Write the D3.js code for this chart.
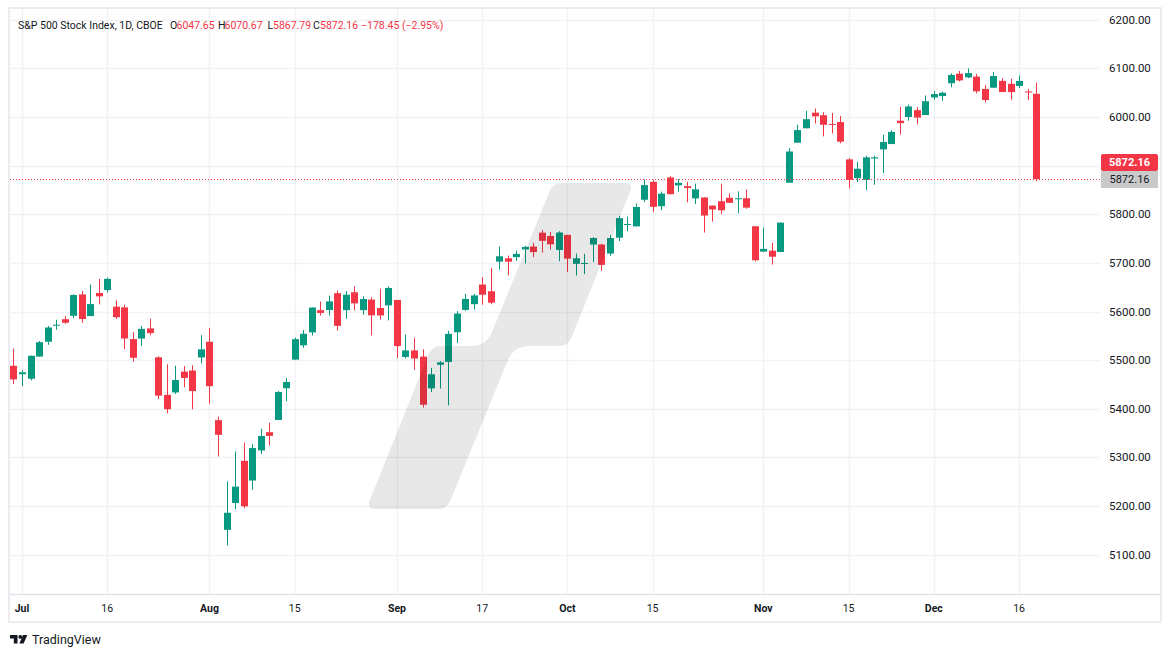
<!DOCTYPE html>
<html>
<head>
<meta charset="utf-8">
<script src="https://cdn.jsdelivr.net/npm/d3@7"></script>
<style>
  body { margin: 0; background: #fff; }
  text { font-family: Roboto, "Liberation Sans", sans-serif; }
</style>
</head>
<body>
<div id="chart"></div>
<script>
var width = 1171,
    height = 657,
    upColor = "#089981",
    downColor = "#F23645",
    textColor = "#131722";

// daily bars, Jun 28 .. Dec 18 2024
var dates = ["2024-06-28",
  "2024-07-01","2024-07-02","2024-07-03","2024-07-05","2024-07-08","2024-07-09","2024-07-10","2024-07-11","2024-07-12",
  "2024-07-15","2024-07-16","2024-07-17","2024-07-18","2024-07-19","2024-07-22","2024-07-23","2024-07-24","2024-07-25",
  "2024-07-26","2024-07-29","2024-07-30","2024-07-31",
  "2024-08-01","2024-08-02","2024-08-05","2024-08-06","2024-08-07","2024-08-08","2024-08-09","2024-08-12","2024-08-13",
  "2024-08-14","2024-08-15","2024-08-16","2024-08-19","2024-08-20","2024-08-21","2024-08-22","2024-08-23","2024-08-26",
  "2024-08-27","2024-08-28","2024-08-29","2024-08-30",
  "2024-09-03","2024-09-04","2024-09-05","2024-09-06","2024-09-09","2024-09-10","2024-09-11","2024-09-12","2024-09-13",
  "2024-09-16","2024-09-17","2024-09-18","2024-09-19","2024-09-20","2024-09-23","2024-09-24","2024-09-25","2024-09-26",
  "2024-09-27","2024-09-30",
  "2024-10-01","2024-10-02","2024-10-03","2024-10-04","2024-10-07","2024-10-08","2024-10-09","2024-10-10","2024-10-11",
  "2024-10-14","2024-10-15","2024-10-16","2024-10-17","2024-10-18","2024-10-21","2024-10-22","2024-10-23","2024-10-24",
  "2024-10-25","2024-10-28","2024-10-29","2024-10-30","2024-10-31",
  "2024-11-01","2024-11-04","2024-11-05","2024-11-06","2024-11-07","2024-11-08","2024-11-11","2024-11-12","2024-11-13",
  "2024-11-14","2024-11-15","2024-11-18","2024-11-19","2024-11-20","2024-11-21","2024-11-22","2024-11-25","2024-11-26",
  "2024-11-27","2024-11-29",
  "2024-12-02","2024-12-03","2024-12-04","2024-12-05","2024-12-06","2024-12-09","2024-12-10","2024-12-11","2024-12-12",
  "2024-12-13","2024-12-16","2024-12-17","2024-12-18"];

var opens = [5488.48,
  5471.08,5461.84,5507.44,5537.91,5572.75,5584.24,5591.26,5635.21,5590.76,
  5638.16,5644.09,5610.07,5608.56,5543.37,5544.54,5565.30,5505.84,5428.70,
  5433.67,5476.55,5478.73,5505.59,
  5537.84,5376.63,5151.14,5206.42,5293.13,5252.57,5314.45,5351.97,5376.98,
  5442.35,5501.13,5530.50,5557.23,5602.88,5603.09,5637.77,5602.89,5639.66,
  5602.89,5624.51,5607.30,5612.74,
  5623.89,5506.68,5520.08,5507.33,5442.07,5490.51,5496.42,5557.48,5603.34,
  5615.21,5655.51,5641.68,5702.63,5709.42,5711.90,5727.73,5733.65,5762.22,
  5755.36,5726.52,
  5757.73,5698.19,5698.56,5737.80,5737.80,5719.14,5751.80,5778.36,5775.09,
  5829.81,5866.74,5816.58,5875.62,5859.43,5857.82,5832.70,5834.50,5817.80,
  5826.75,5833.93,5832.65,5832.89,5775.34,
  5723.22,5725.15,5722.43,5864.89,5947.21,5976.76,6008.86,6003.60,5985.75,
  5989.59,5912.79,5874.17,5870.69,5914.64,5933.38,5944.36,5992.28,6000.03,
  6014.11,6003.98,
  6040.11,6042.97,6069.39,6089.03,6081.38,6083.00,6057.59,6060.15,6074.29,
  6068.17,6063.79,6052.55,6047.65];

var highs = [5523.64,
  5479.55,5509.69,5539.27,5570.33,5583.11,5590.75,5635.39,5642.45,5655.56,
  5666.94,5669.67,5622.49,5614.05,5557.50,5570.36,5585.34,5508.04,5491.59,
  5488.66,5487.74,5489.46,5551.51,
  5566.16,5383.89,5250.89,5312.34,5330.64,5328.03,5358.83,5371.20,5436.50,
  5463.22,5546.23,5561.98,5608.30,5620.51,5632.68,5643.22,5641.82,5651.62,
  5631.18,5629.51,5646.95,5651.37,
  5623.89,5552.74,5546.30,5522.47,5484.20,5497.91,5560.41,5600.71,5636.27,
  5636.05,5670.81,5689.75,5733.57,5715.14,5725.36,5735.32,5741.03,5767.37,
  5763.78,5765.14,
  5757.73,5719.14,5718.78,5753.15,5739.34,5757.60,5796.80,5795.03,5822.13,
  5871.41,5870.36,5846.52,5878.46,5872.17,5866.92,5863.04,5834.85,5817.80,
  5862.82,5842.92,5847.19,5850.94,5775.34,
  5772.52,5741.43,5783.44,5936.14,5983.84,6012.45,6017.31,6009.92,6008.19,
  6002.10,5915.21,5908.12,5920.28,5920.67,5963.44,5972.90,6020.75,6025.42,
  6020.16,6044.17,
  6053.58,6052.07,6089.84,6094.64,6099.97,6088.51,6065.40,6092.59,6079.68,
  6078.58,6085.19,6057.68,6070.67];

var lows = [5451.12,
  5446.53,5458.43,5507.42,5531.63,5562.51,5574.57,5586.44,5576.53,5590.44,
  5614.75,5639.02,5584.81,5522.81,5497.04,5529.04,5550.90,5419.98,5390.95,
  5430.70,5444.44,5398.84,5493.75,
  5410.42,5302.03,5119.26,5193.56,5195.54,5233.85,5306.93,5324.37,5376.98,
  5415.44,5501.13,5525.17,5550.74,5591.50,5591.57,5560.95,5585.16,5602.34,
  5593.48,5550.74,5583.71,5581.79,
  5504.33,5503.66,5480.15,5402.62,5434.49,5441.72,5406.96,5535.50,5601.65,
  5604.53,5614.05,5615.08,5686.42,5674.49,5704.22,5698.99,5712.06,5721.01,
  5727.34,5703.53,
  5681.28,5674.00,5677.04,5702.02,5683.79,5714.56,5745.02,5764.76,5775.09,
  5824.81,5804.48,5808.34,5840.25,5846.11,5824.46,5821.17,5762.41,5784.92,
  5799.98,5823.08,5802.68,5811.28,5702.86,
  5723.22,5696.51,5722.10,5864.89,5947.21,5976.76,5986.69,5960.08,5965.91,
  5945.80,5853.01,5865.95,5850.00,5860.58,5884.82,5944.36,5963.91,5992.27,
  5984.87,6003.98,
  6035.33,6033.39,6061.06,6073.00,6079.98,6048.63,6029.89,6060.15,6051.25,
  6035.77,6059.14,6035.19,5867.79];

var closes = [5460.48,
  5475.09,5509.01,5537.02,5567.19,5572.85,5576.98,5633.91,5584.54,5615.35,
  5631.22,5667.20,5588.27,5544.59,5505.00,5564.41,5555.74,5427.13,5399.22,
  5459.10,5463.54,5436.44,5522.30,
  5446.68,5346.56,5186.33,5240.03,5199.50,5319.31,5344.16,5344.39,5434.43,
  5455.21,5543.22,5554.25,5608.25,5597.12,5620.85,5570.64,5634.61,5616.84,
  5625.80,5592.18,5591.96,5648.40,
  5528.93,5520.07,5503.41,5408.42,5471.05,5495.52,5554.13,5595.76,5626.02,
  5633.09,5634.58,5618.26,5713.64,5702.55,5718.57,5732.93,5722.26,5745.37,
  5738.17,5762.48,
  5708.75,5709.54,5699.94,5751.07,5695.94,5751.13,5792.04,5780.05,5815.03,
  5859.85,5815.26,5842.47,5841.47,5864.67,5853.98,5851.20,5797.42,5809.86,
  5808.12,5823.52,5832.92,5813.67,5705.45,
  5728.80,5712.69,5782.76,5929.04,5973.10,5995.54,6001.35,5983.99,5985.38,
  5949.17,5870.62,5893.62,5916.98,5917.11,5948.71,5969.34,5987.37,6021.63,
  5998.74,6032.38,
  6047.15,6049.88,6086.49,6075.11,6090.27,6052.85,6034.91,6084.19,6051.25,
  6051.09,6074.08,6050.61,5872.16];

var priceTicks = [5100, 5200, 5300, 5400, 5500, 5600, 5700, 5800, 5900, 6000, 6100, 6200];
var dateTicks = ["2024-07-01","2024-07-16","2024-08-01","2024-08-15","2024-09-03","2024-09-17",
                 "2024-10-01","2024-10-15","2024-11-01","2024-11-15","2024-12-02","2024-12-16"];
var dateTickLabels = ["Jul","16","Aug","15","Sep","17","Oct","15","Nov","15","Dec","16"];
var monthLabels = ["Jul","Aug","Sep","Oct","Nov","Dec"];

var title = "S&P 500 Stock Index, 1D, CBOE",
    lastPrice = "5872.16",
    legendParts = [{t: "O", c: textColor, x: 170}, {t: "6047.65", c: downColor, x: 176.5},
                   {t: "H", c: textColor, x: 218}, {t: "6070.67", c: downColor, x: 224.5},
                   {t: "L", c: textColor, x: 267.5}, {t: "5867.79", c: downColor, x: 273},
                   {t: "C", c: textColor, x: 313}, {t: "5872.16", c: downColor, x: 320},
                   {t: "\u2212178.45 (\u22122.95%)", c: downColor, x: 361}];

var bars = dates.map(function(d, i) {
  return {i: i, date: d, o: opens[i], h: highs[i], l: lows[i], c: closes[i]};
});

var plot = {left: 10, right: 1100, top: 9, bottom: 594};

var x = d3.scaleLinear()
    .domain([-0.41, 127.5])
    .range([plot.left, plot.right]);

var y = d3.scaleLinear()
    .domain([5019.3, 6222.0])
    .range([plot.bottom, plot.top]);

var svg = d3.select("#chart").append("svg")
    .attr("width", width)
    .attr("height", height);

svg.append("rect")
    .attr("width", width)
    .attr("height", height)
    .attr("fill", "#fff");

svg.append("defs").append("clipPath")
    .attr("id", "plotClip")
  .append("rect")
    .attr("x", plot.left)
    .attr("y", plot.top)
    .attr("width", plot.right - plot.left)
    .attr("height", plot.bottom - plot.top);

// grid
var grid = svg.append("g");
grid.selectAll("line.hgrid")
    .data(priceTicks)
  .enter().append("line")
    .attr("class", "hgrid")
    .attr("x1", plot.left)
    .attr("x2", plot.right)
    .attr("y1", function(d) { return Math.round(y(d)) + 0.5; })
    .attr("y2", function(d) { return Math.round(y(d)) + 0.5; })
    .attr("stroke", "#f1f2f5")
    .attr("stroke-width", 1.5);

grid.selectAll("line.vgrid")
    .data(dateTicks)
  .enter().append("line")
    .attr("class", "vgrid")
    .attr("x1", function(d) { return Math.round(x(dates.indexOf(d))) + 0.5; })
    .attr("x2", function(d) { return Math.round(x(dates.indexOf(d))) + 0.5; })
    .attr("y1", plot.top)
    .attr("y2", plot.bottom)
    .attr("stroke", "#f1f2f5")
    .attr("stroke-width", 1.5);

// candles
var candles = svg.append("g")
    .attr("clip-path", "url(#plotClip)");

var bodyW = 7;

var candle = candles.selectAll("g.candle")
    .data(bars)
  .enter().append("g")
    .attr("class", "candle");

candle.append("line")
    .attr("x1", function(d) { return Math.round(x(d.i)) + 0.5; })
    .attr("x2", function(d) { return Math.round(x(d.i)) + 0.5; })
    .attr("y1", function(d) { return y(d.h); })
    .attr("y2", function(d) { return y(d.l); })
    .attr("stroke", function(d) { return d.c >= d.o ? upColor : downColor; })
    .attr("stroke-width", 1);

candle.append("rect")
    .attr("x", function(d) { return Math.round(x(d.i)) + 0.5 - bodyW / 2; })
    .attr("y", function(d) { return y(Math.max(d.o, d.c)); })
    .attr("width", bodyW)
    .attr("height", function(d) { return Math.max(1, Math.abs(y(d.o) - y(d.c))); })
    .attr("fill", function(d) { return d.c >= d.o ? upColor : downColor; });

// last price line
var last = bars[bars.length - 1];
var lastY = Math.round(y(last.c));
svg.append("line")
    .attr("x1", plot.left)
    .attr("x2", plot.right)
    .attr("y1", lastY + 0.5)
    .attr("y2", lastY + 0.5)
    .attr("stroke", downColor)
    .attr("stroke-width", 1)
    .attr("stroke-dasharray", "1,2");

// watermark
svg.append("path")
    .attr("d", "M561,183 L625,183 Q634,183 630,192 L571.5,337.5 Q568,346 559,346 L530,346 " +
               "Q514,346 508,360 L450.5,500.5 Q447,509 438,509 L376,509 Q366,509 370,499.5 " +
               "L428.5,354.5 Q432,346 441,346 L470,346 Q486,346 492,332 L549.5,191.5 Q553,183 561,183 Z")
    .attr("fill", "#000")
    .attr("fill-opacity", 0.09);

// frame
svg.append("line")
    .attr("x1", plot.left)
    .attr("x2", 1161)
    .attr("y1", plot.bottom + 0.5)
    .attr("y2", plot.bottom + 0.5)
    .attr("stroke", "#e0e3eb")
    .attr("stroke-width", 1.5);

svg.append("rect")
    .attr("x", 9)
    .attr("y", 8)
    .attr("width", 1152)
    .attr("height", 614)
    .attr("fill", "none")
    .attr("stroke", "#ebebf0")
    .attr("stroke-width", 2);

// price axis (labels hidden under the last price tags are skipped)
var yAxis = svg.append("g");
yAxis.selectAll("text")
    .data(priceTicks.filter(function(d) { return y(d) < lastY - 32 || y(d) > lastY + 16; }))
  .enter().append("text")
    .attr("x", 1109)
    .attr("y", function(d) { return y(d); })
    .attr("dy", "0.35em")
    .attr("font-size", "11.5px")
    .attr("fill", textColor)
    .text(function(d) { return d3.format(".2f")(d); });

// last price labels
svg.append("rect")
    .attr("x", 1101)
    .attr("y", lastY - 25)
    .attr("width", 57)
    .attr("height", 17)
    .attr("rx", 2)
    .attr("fill", downColor);
svg.append("text")
    .attr("x", 1129.5)
    .attr("y", lastY - 16.5)
    .attr("dy", "0.35em")
    .attr("text-anchor", "middle")
    .attr("font-size", "11px")
    .attr("font-weight", "bold")
    .attr("fill", "#fff")
    .text(lastPrice);

svg.append("rect")
    .attr("x", 1101)
    .attr("y", lastY - 8)
    .attr("width", 57)
    .attr("height", 17)
    .attr("fill", "#c9c9c9");
svg.append("text")
    .attr("x", 1129.5)
    .attr("y", lastY + 0.5)
    .attr("dy", "0.35em")
    .attr("text-anchor", "middle")
    .attr("font-size", "11px")
    .attr("fill", textColor)
    .text(lastPrice);

// time axis
svg.append("g").selectAll("text")
    .data(dateTicks)
  .enter().append("text")
    .attr("x", function(d) { return x(dates.indexOf(d)); })
    .attr("y", 608)
    .attr("dy", "0.35em")
    .attr("text-anchor", "middle")
    .attr("font-size", "10.5px")
    .attr("font-weight", function(d, i) { return monthLabels.indexOf(dateTickLabels[i]) >= 0 ? "bold" : "normal"; })
    .attr("fill", textColor)
    .text(function(d, i) { return dateTickLabels[i]; });

// legend
svg.append("text")
    .attr("x", 18)
    .attr("y", 25)
    .attr("dy", "0.35em")
    .attr("font-size", "10.5px")
    .attr("fill", textColor)
    .text(title);

svg.append("g").selectAll("text")
    .data(legendParts)
  .enter().append("text")
    .attr("x", function(d) { return d.x; })
    .attr("y", 25)
    .attr("dy", "0.35em")
    .attr("font-size", "10.5px")
    .attr("fill", function(d) { return d.c; })
    .text(function(d) { return d.t; });

// TradingView mark
var logo = svg.append("g")
    .attr("fill", textColor);
logo.append("path")
    .attr("d", "M10,635 L17.5,635 L17.5,643.5 L13.8,643.5 L13.8,638.6 L10,638.6 Z");
logo.append("circle")
    .attr("cx", 20.3)
    .attr("cy", 636.9)
    .attr("r", 1.9);
logo.append("path")
    .attr("d", "M23,635 L27.3,635 L23.6,643.5 L19.4,643.5 Z");
svg.append("text")
    .attr("x", 32)
    .attr("y", 639.5)
    .attr("dy", "0.35em")
    .attr("font-size", "12.5px")
    .attr("fill", textColor)
    .text("TradingView");
</script>
</body>
</html>
